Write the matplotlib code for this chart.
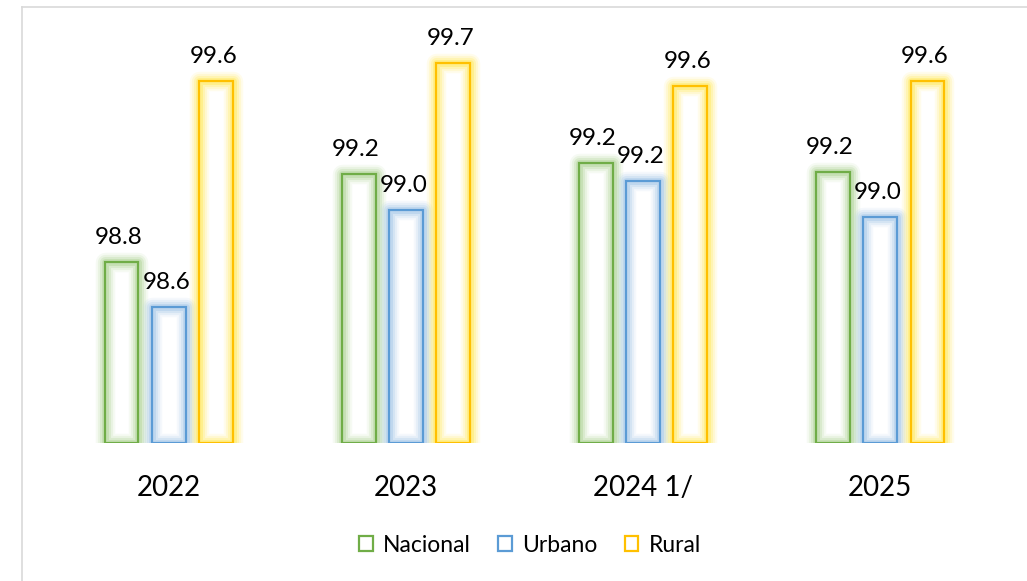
import numpy as np
import matplotlib
matplotlib.use("Agg")
import matplotlib.pyplot as plt
from matplotlib.patches import Patch
from matplotlib.lines import Line2D

plt.rcParams["font.family"] = ["Lato", "DejaVu Sans"]

# data
years = ["2022", "2023", "2024 1/", "2025"]
series_names = ["Nacional", "Urbano", "Rural"]
nacional = [98.80, 99.19, 99.24, 99.20]
urbano = [98.60, 99.03, 99.16, 99.00]
rural = [99.60, 99.68, 99.58, 99.60]

colors = ["#70AD47", "#5B9BD5", "#FFC000"]
glow_colors = ["#A9D18E", "#9DC3E6", "#FFE84D"]

W, H = 1027, 581
fig = plt.figure(figsize=(W / 100, H / 100), dpi=100)
fig.patch.set_facecolor("white")

# plot area (pixel based)
left_px, bottom_px, top_px = 22, 443, 20
ax = fig.add_axes([left_px / W, (H - bottom_px) / H, 1 - left_px / W, (bottom_px - top_px) / H])
ax.set_xlim(-0.62, 3.62)
ax.set_ylim(98.0, 98.0 + (bottom_px - top_px) / 226)
for s in ax.spines.values():
    s.set_visible(False)
ax.set_yticks([])

x = np.arange(len(years))
width = 0.143
offsets = [-0.2, 0.0, 0.2]

for vals, off, col, gcol in zip([nacional, urbano, rural], offsets, colors, glow_colors):
    xs = x + off
    heights = np.array(vals) - 98.0
    # white fill
    ax.bar(xs, heights, width, bottom=98.0, color="white", edgecolor="none", zorder=1)
    # soft glow around the outline
    for lw, a in [(14, 0.10), (11, 0.16), (8, 0.24), (5, 0.38)]:
        ax.bar(xs, heights, width, bottom=98.0, facecolor="none", edgecolor=gcol,
               linewidth=lw, alpha=a, joinstyle="round", zorder=2)
    ax.bar(xs, heights, width, bottom=98.0, facecolor="none", edgecolor=col,
           linewidth=1.6, zorder=3)
    for xi, v in zip(xs, vals):
        ax.annotate(f"{v:.1f}", (xi, v), xytext=(-2, 13), textcoords="offset points",
                    ha="center", va="baseline", fontsize=17.5, color="black", zorder=4)

ax.set_xticks(x)
ax.set_xticklabels(years, fontsize=20)
ax.tick_params(axis="x", length=0, pad=23)

handles = [Patch(facecolor="white", edgecolor=c, linewidth=1.6, label=n)
           for c, n in zip(colors, series_names)]
fig.legend(handles=handles, loc="center", bbox_to_anchor=(530 / W, 1 - 545 / H),
           ncol=3, frameon=False, fontsize=16.5, handlelength=0.58, handleheight=0.58,
           handletextpad=0.45, columnspacing=1.2)

# chart border (cropped: only left and top edges visible)
fig.add_artist(Line2D([21.5 / W, 21.5 / W], [0, (H - 6.5) / H], color="#D9D9D9", linewidth=1.2))
fig.add_artist(Line2D([21.5 / W, 1], [(H - 6.5) / H, (H - 6.5) / H], color="#D9D9D9", linewidth=1.2))

fig.savefig("out.png", dpi=100, facecolor="white")
